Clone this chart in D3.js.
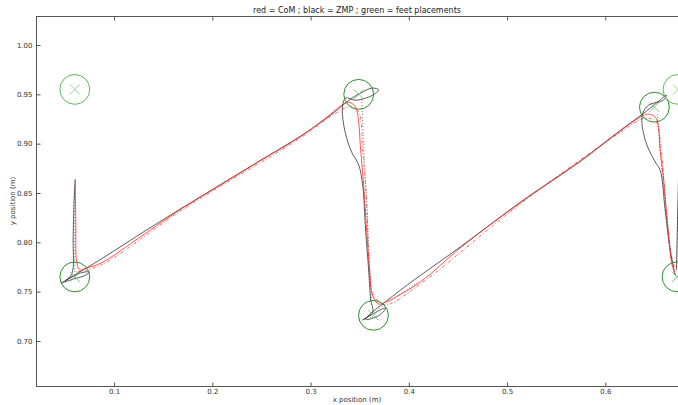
<!DOCTYPE html>
<html>
<head>
<meta charset="utf-8">
<script src="https://cdn.jsdelivr.net/npm/d3@7"></script>
<style>
  body { margin: 0; background: #fff; }
  text { font-family: "DejaVu Sans", sans-serif; }
</style>
</head>
<body>
<div id="chart"></div>
<script>
// ---------------- data ----------------
const titleText = "red = CoM ; black = ZMP ; green = feet placements";
const xLabel = "x position (m)";
const yLabel = "y position (m)";
const xTicks = [0.1, 0.2, 0.3, 0.4, 0.5, 0.6];
const yTicks = [0.70, 0.75, 0.80, 0.85, 0.90, 0.95, 1.00];
const xDomain = [0.0205, 0.674];
const yDomain = [0.6544, 1.0294];

// foot placements
const feetX = [0.060, 0.060, 0.349, 0.364, 0.650, 0.674, 0.673];
const feetY = [0.955, 0.765, 0.950, 0.726, 0.937, 0.955, 0.765];
const feetFaded = [1, 0, 0, 0, 0, 1, 0];
const footRadius = 0.0152;

// ZMP (black solid)
const zmpX = [0.0604, 0.0593, 0.0583, 0.0583, 0.0563, 0.0502, 0.0461, 0.0560, 0.0715, 0.0746, 0.0660, 0.0500,
  0.0868, 0.1274, 0.1680, 0.2087, 0.2493, 0.2900, 0.3205, 0.3408, 0.3510, 0.3632, 0.3693, 0.3630, 0.3460, 0.3358,
  0.3327, 0.3337, 0.3408, 0.3490, 0.3530, 0.3560, 0.3591, 0.3612, 0.3632, 0.3530, 0.3660, 0.3764, 0.3700, 0.3560,
  0.3917, 0.4526, 0.5140, 0.5746, 0.6153, 0.6406, 0.6558, 0.6620, 0.6590, 0.6440, 0.6376,
  0.6406, 0.6508, 0.6558, 0.6609, 0.6660, 0.6710];
const zmpY = [0.8642, 0.8430, 0.8024, 0.7740, 0.7670, 0.7610, 0.7588, 0.7620, 0.7670, 0.7700, 0.7690, 0.7610,
  0.7830, 0.8090, 0.8342, 0.8588, 0.8833, 0.9078, 0.9290, 0.9453, 0.9514, 0.9564, 0.9544, 0.9490, 0.9440, 0.9463,
  0.9392, 0.9190, 0.8936, 0.8784, 0.8581, 0.8125, 0.7720, 0.7416, 0.7294, 0.7213, 0.7290, 0.7335, 0.7260, 0.7220,
  0.7517, 0.7955, 0.8410, 0.8825, 0.9135, 0.9320, 0.9443, 0.9493, 0.9440, 0.9390, 0.9290,
  0.9037, 0.8814, 0.8733, 0.8328, 0.7922, 0.7670];
// next ZMP vertical at right edge
const zmp2X = [0.6745, 0.6735, 0.6725];
const zmp2Y = [0.8650, 0.8200, 0.7720];

// CoM (red solid)
const comX = [0.0605, 0.0610, 0.0620, 0.0650, 0.0715, 0.0868, 0.1274, 0.1680, 0.2087, 0.2493, 0.2900, 0.3205,
  0.3307, 0.3388, 0.3449, 0.3480, 0.3510, 0.3540, 0.3571, 0.3601, 0.3632, 0.3693, 0.3764,
  0.4120, 0.4526, 0.5140, 0.5746, 0.6153, 0.6356, 0.6437, 0.6508, 0.6538, 0.6558, 0.6589, 0.6640, 0.6680, 0.6720];
const comY = [0.8630, 0.8200, 0.7800, 0.7720, 0.7740, 0.7790, 0.8060, 0.8336, 0.8583, 0.8830, 0.9073, 0.9300,
  0.9385, 0.9420, 0.9382, 0.9290, 0.8936, 0.8581, 0.8125, 0.7720, 0.7456, 0.7375, 0.7395,
  0.7600, 0.7945, 0.8405, 0.8820, 0.9128, 0.9270, 0.9300, 0.9270, 0.9189, 0.8936, 0.8682, 0.8125, 0.7770, 0.7660];

// CoM reference (red dash-dot)
const comRefX = [0.0624, 0.0868, 0.1680, 0.2900, 0.3256, 0.3408, 0.3490, 0.3530, 0.3570, 0.3622, 0.3673, 0.3764,
  0.4120, 0.5140, 0.6153, 0.6406, 0.6518, 0.6558, 0.6660, 0.6720];
const comRefY = [0.7699, 0.7770, 0.8320, 0.9060, 0.9310, 0.9375, 0.9320, 0.8936, 0.8430, 0.7517, 0.7416, 0.7365,
  0.7580, 0.8395, 0.9115, 0.9260, 0.9220, 0.9040, 0.7922, 0.7700];

// ZMP reference segments (black dotted)
const zmpRefSegX = [[0.0600, 0.0600], [0.3520, 0.3560, 0.3620], [0.3700, 0.4100], [0.6530, 0.6580, 0.6680]];
const zmpRefSegY = [[0.8500, 0.7700], [0.9450, 0.8600, 0.7400], [0.7330, 0.7600], [0.9300, 0.8700, 0.7800]];

// ---------------- layout ----------------
const W = 678, H = 405;
const plotLeft = 36, plotRight = 678, plotTop = 16, plotBottom = 386;

const svg = d3.select("#chart").append("svg")
  .attr("width", W).attr("height", H)
  .style("display", "block");

const x = d3.scaleLinear().domain(xDomain).range([plotLeft, plotRight]);
const y = d3.scaleLinear().domain(yDomain).range([plotBottom, plotTop]);

svg.append("defs").append("clipPath").attr("id", "clip")
  .append("rect").attr("x", plotLeft).attr("y", plotTop)
  .attr("width", plotRight - plotLeft).attr("height", plotBottom - plotTop);

const g = svg.append("g").attr("clip-path", "url(#clip)");

const zip = (xs, ys) => xs.map((v, i) => [v, ys[i]]);
const line = d3.line().x(d => x(d[0])).y(d => y(d[1])).curve(d3.curveCatmullRom.alpha(0.5));

g.append("path").datum(zip(comRefX, comRefY))
  .attr("d", line).attr("fill", "none")
  .attr("stroke", "#ff4040").attr("stroke-width", 0.8)
  .attr("stroke-dasharray", "3,2,1,2");

zmpRefSegX.forEach((xs, i) => {
  g.append("path").datum(zip(xs, zmpRefSegY[i]))
    .attr("d", line).attr("fill", "none")
    .attr("stroke", "#555").attr("stroke-width", 0.8)
    .attr("stroke-dasharray", "1,2");
});

g.append("path").datum(zip(zmpX, zmpY))
  .attr("d", line).attr("fill", "none")
  .attr("stroke", "#333").attr("stroke-width", 0.8);
g.append("path").datum(zip(zmp2X, zmp2Y))
  .attr("d", line).attr("fill", "none")
  .attr("stroke", "#333").attr("stroke-width", 0.9);

g.append("path").datum(zip(comX, comY))
  .attr("d", line).attr("fill", "none")
  .attr("stroke", "#ff2a2a").attr("stroke-width", 0.8);

const feet = feetX.map((v, i) => ({ x: v, y: feetY[i], faded: feetFaded[i] }));
const pxPerUnit = x(1) - x(0);
feet.forEach(f => {
  const col = f.faded ? "#5cb85c" : "#2a8f2a";
  const cx = x(f.x), cy = y(f.y);
  g.append("circle").attr("cx", cx).attr("cy", cy)
    .attr("r", footRadius * pxPerUnit)
    .attr("fill", "none").attr("stroke", col).attr("stroke-width", 1);
  const s = 5;
  g.append("path")
    .attr("d", `M${cx - s},${cy - s}L${cx + s},${cy + s}M${cx - s},${cy + s}L${cx + s},${cy - s}`)
    .attr("stroke", f.faded ? "#7cc87c" : "#66b866").attr("stroke-width", 0.8);
});

// ---------------- axes ----------------
const axisCol = "#555";
const frame = svg.append("g");
frame.append("line").attr("x1", plotLeft).attr("x2", plotRight).attr("y1", plotTop + 0.5).attr("y2", plotTop + 0.5)
  .attr("stroke", axisCol);
frame.append("line").attr("x1", plotLeft).attr("x2", plotRight).attr("y1", plotBottom + 0.5).attr("y2", plotBottom + 0.5)
  .attr("stroke", axisCol);
frame.append("line").attr("x1", plotLeft + 0.5).attr("x2", plotLeft + 0.5).attr("y1", plotTop).attr("y2", plotBottom + 1)
  .attr("stroke", axisCol);

const xAxisB = d3.axisBottom(x).tickValues(xTicks).tickFormat(d3.format(".1f")).tickSizeInner(-4).tickSizeOuter(0).tickPadding(3);
const xAxisT = d3.axisTop(x).tickValues(xTicks).tickFormat("").tickSizeInner(-4).tickSizeOuter(0);
const yAxisL = d3.axisLeft(y).tickValues(yTicks).tickFormat(d3.format(".2f")).tickSizeInner(-4).tickSizeOuter(0).tickPadding(4);

function style(sel) {
  sel.select(".domain").remove();
  sel.selectAll(".tick line").attr("stroke", axisCol);
  sel.selectAll(".tick text").attr("fill", "#333").style("font-size", "7px");
}
svg.append("g").attr("transform", `translate(0,${plotBottom + 0.5})`).call(xAxisB).call(style);
svg.append("g").attr("transform", `translate(0,${plotTop + 0.5})`).call(xAxisT).call(style);
svg.append("g").attr("transform", `translate(${plotLeft + 0.5},0)`).call(yAxisL).call(style);

svg.append("text").attr("x", (plotLeft + plotRight) / 2).attr("y", 13)
  .attr("text-anchor", "middle").style("font-size", "8px").attr("fill", "#222").text(titleText);
svg.append("text").attr("x", (plotLeft + plotRight) / 2).attr("y", 402)
  .attr("text-anchor", "middle").style("font-size", "7px").attr("fill", "#333").text(xLabel);
svg.append("text").attr("transform", `translate(15,${(plotTop + plotBottom) / 2}) rotate(-90)`)
  .attr("text-anchor", "middle").style("font-size", "7px").attr("fill", "#333").text(yLabel);
</script>
</body>
</html>
